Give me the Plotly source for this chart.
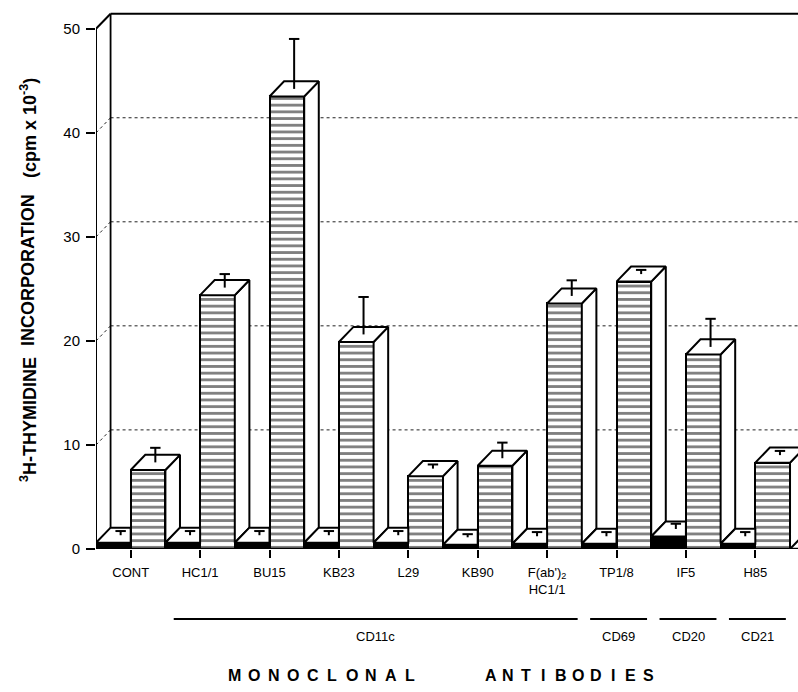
import plotly.graph_objects as go

# ---------------- data ----------------
categories = ["CONT", "HC1/1", "BU15", "KB23", "L29", "KB90",
              "F(ab')<sub>2</sub><br>HC1/1", "TP1/8", "IF5", "H85"]
control_values = [0.6, 0.6, 0.6, 0.6, 0.6, 0.4, 0.5, 0.5, 1.2, 0.5]
control_errors = [0.4, 0.4, 0.4, 0.4, 0.4, 0.3, 0.4, 0.4, 0.5, 0.4]
antibody_values = [7.6, 24.4, 43.5, 19.9, 7.0, 8.0, 23.6, 25.7, 18.7, 8.3]
antibody_errors = [1.4, 1.3, 4.8, 3.6, 0.4, 1.5, 1.5, 0.4, 2.7, 0.4]
y_ticks = [0, 10, 20, 30, 40, 50]
group_names = ["CD11c", "CD69", "CD20", "CD21"]
group_members = [(1, 6), (7, 7), (8, 8), (9, 9)]   # first/last category index
y_title_parts = ["<sup>3</sup>H-THYMIDINE", "INCORPORATION", "(cpm x 10<sup>-3</sup>)"]
x_title_words = ["MONOCLONAL", "ANTIBODIES"]

# ---------------- geometry (style) ----------------
n = len(categories)
pos = list(range(n))
BW = 0.5             # bar width
DX, DY = 0.21, 1.45  # 3-D depth offset (x units, y units)
CAP = 0.075          # half width of error-bar caps (x units)
XMIN, XMAX = -0.5, 9.615
YMAX = 52.0
BLACK = "black"
FONT = "Liberation Sans"

fig = go.Figure()

# front faces (bars)
fig.add_trace(go.Bar(
    x=[p - BW / 2 for p in pos], y=control_values, width=BW,
    marker=dict(color=BLACK, line=dict(color=BLACK, width=2)),
    showlegend=False, hoverinfo="skip"))
fig.add_trace(go.Bar(
    x=[p + BW / 2 for p in pos], y=antibody_values, width=BW,
    marker=dict(color="white", line=dict(color=BLACK, width=2),
                pattern=dict(shape="-", fgcolor=BLACK, bgcolor="white",
                             size=6.7, solidity=0.42, fillmode="overlay")),
    showlegend=False, hoverinfo="skip"))

def poly(xs, ys):
    fig.add_trace(go.Scatter(
        x=xs + [xs[0]], y=ys + [ys[0]], mode="lines", fill="toself",
        fillcolor="white", line=dict(color=BLACK, width=2),
        showlegend=False, hoverinfo="skip"))

for i in pos:
    c = control_values[i]
    v = antibody_values[i]
    # top face of control bar (rear part hidden by antibody bar)
    poly([i - BW, i, i, i - BW + DX], [c, c, c + DY, c + DY])
    # side face of antibody bar (bottom hidden by next control bar)
    x1 = i + BW
    cn = control_values[i + 1] if i + 1 < n else 0
    poly([x1, x1, x1 + DX, x1 + DX], [cn, v, v + DY, cn + DY])
    # top face of antibody bar
    poly([i, i + BW, i + BW + DX, i + DX], [v, v, v + DY, v + DY])

# error bars (upward only, from centre of top faces, T-shaped)
ex, ey = [], []
for centres, vals, errs in (
        ([p - BW / 2 + DX / 2 for p in pos], control_values, control_errors),
        ([p + BW / 2 + DX / 2 for p in pos], antibody_values, antibody_errors)):
    for xc, v, e in zip(centres, vals, errs):
        base = v + DY / 2
        ex += [xc, xc, None, xc - CAP, xc + CAP, None]
        ey += [base, base + e, None, base + e, base + e, None]
fig.add_trace(go.Scatter(x=ex, y=ey, mode="lines", line=dict(color=BLACK, width=2),
                         showlegend=False, hoverinfo="skip"))

shapes = []
# back-wall dotted grid lines and their short diagonals
for k in y_ticks[1:-1]:
    shapes.append(dict(type="line", xref="x", yref="y", layer="below",
                       x0=XMIN + DX, x1=XMAX + 1, y0=k + DY, y1=k + DY,
                       line=dict(color="#222", width=1, dash="dot")))
    shapes.append(dict(type="line", xref="x", yref="y", layer="below",
                       x0=XMIN, x1=XMIN + DX, y0=k, y1=k + DY,
                       line=dict(color="#222", width=1, dash="dot")))
top = y_ticks[-1]
# frame lines
shapes += [
    dict(type="line", xref="x", yref="y", layer="below", x0=XMIN + DX, x1=XMIN + DX,
         y0=DY, y1=top + DY, line=dict(color=BLACK, width=1.8)),
    dict(type="line", xref="x", yref="y", layer="below", x0=XMIN + DX, x1=XMAX + 1,
         y0=top + DY, y1=top + DY, line=dict(color=BLACK, width=2)),
    dict(type="line", xref="x", yref="y", x0=XMIN, x1=XMIN + DX,
         y0=top, y1=top + DY, line=dict(color=BLACK, width=2)),
    dict(type="line", xref="x", yref="y", x0=XMIN, x1=XMIN,
         y0=0, y1=top, line=dict(color=BLACK, width=2)),
    dict(type="line", xref="x", yref="y", x0=XMIN, x1=XMAX + 1,
         y0=0, y1=0, line=dict(color=BLACK, width=2.5)),
]

plot_top_px, plot_bot_px = 8, 549
def py2paper(py):
    return (plot_bot_px - py) / (plot_bot_px - plot_top_px)
def px2paper(px):
    return (px - 96) / (798 - 96)

annotations = []
# group brackets below the axis
for name, (a, b) in zip(group_names, group_members):
    x0, x1 = a - 0.38, b + 0.44
    shapes.append(dict(type="line", xref="x", yref="paper", x0=x0, x1=x1,
                       y0=py2paper(619), y1=py2paper(619),
                       line=dict(color=BLACK, width=2)))
    annotations.append(dict(x=(x0 + x1) / 2, y=py2paper(636), xref="x", yref="paper",
                            xanchor="center", yanchor="middle",
                            text=name, showarrow=False,
                            font=dict(family=FONT, size=13, color=BLACK)))

# x-axis title, letter-spaced (one annotation per letter)
word_spans = [(225, 420), (482, 657)]
for word, (a, b) in zip(x_title_words, word_spans):
    slot = (b - a) / len(word)
    for k, ch in enumerate(word):
        annotations.append(dict(x=px2paper(a + slot * (k + 0.5)), y=py2paper(675),
                                xref="paper", yref="paper",
                                xanchor="center", yanchor="middle",
                                text=ch, showarrow=False,
                                font=dict(family=FONT, size=16, color=BLACK,
                                          weight="bold")))

# y-axis title (rotated, one annotation per word group)
title_centres = [420, 270, 128]
for txt, cy in zip(y_title_parts, title_centres):
    annotations.append(dict(x=px2paper(28), y=py2paper(cy), xref="paper", yref="paper",
                            xanchor="center", yanchor="middle",
                            textangle=-90, text=txt, showarrow=False,
                            font=dict(family=FONT, size=18, color=BLACK, weight="bold")))

fig.update_layout(
    width=798, height=692,
    margin=dict(l=96, r=0, t=plot_top_px, b=692 - plot_bot_px, pad=0),
    paper_bgcolor="white", plot_bgcolor="white",
    barmode="overlay", bargap=0,
    showlegend=False,
    shapes=shapes, annotations=annotations,
    xaxis=dict(range=[XMIN, XMAX], tickmode="array", tickvals=pos, ticktext=categories,
               showgrid=False, zeroline=False, showline=False,
               ticks="outside", ticklen=8, tickwidth=2, tickcolor=BLACK,
               ticklabelstandoff=3,
               tickfont=dict(family=FONT, size=13, color=BLACK)),
    yaxis=dict(range=[0, YMAX], tickmode="array", tickvals=y_ticks,
               showgrid=False, zeroline=False, showline=False,
               ticks="outside", ticklen=9, tickwidth=1.5, tickcolor=BLACK,
               ticklabelstandoff=3,
               tickfont=dict(family=FONT, size=15, color=BLACK)),
)

fig.write_html("out.html")
